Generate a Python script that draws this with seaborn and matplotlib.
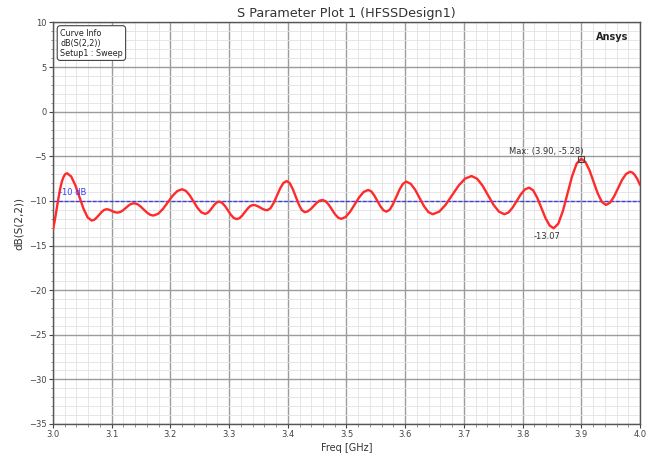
import matplotlib
matplotlib.use("Agg")
import matplotlib.pyplot as plt
from matplotlib.ticker import MultipleLocator
import seaborn as sns
import pandas as pd
import numpy as np

# ---- data ----
freq_ghz = [
    3.000, 3.003, 3.006, 3.009, 3.012, 3.015, 3.018, 3.021, 3.024,
    3.031, 3.038, 3.045, 3.052, 3.059, 3.066,
    3.0702, 3.0743, 3.0785, 3.0827, 3.0868, 3.091,
    3.0942, 3.0973, 3.1005, 3.1037, 3.1068, 3.110,
    3.1147, 3.1193, 3.124, 3.1287, 3.1333, 3.138,
    3.1435, 3.149, 3.1545, 3.160, 3.1655, 3.171,
    3.1792, 3.1873, 3.1955, 3.2037, 3.2118, 3.220,
    3.2265, 3.233, 3.2395, 3.246, 3.2525, 3.259,
    3.263, 3.267, 3.271, 3.275, 3.279, 3.283,
    3.288, 3.293, 3.298, 3.303, 3.308, 3.313,
    3.3177, 3.3223, 3.327, 3.3317, 3.3363, 3.341,
    3.345, 3.349, 3.353, 3.357, 3.361, 3.365,
    3.3705, 3.376, 3.3815, 3.387, 3.3925, 3.398,
    3.4032, 3.4083, 3.4135, 3.4187, 3.4238, 3.429,
    3.434, 3.439, 3.444, 3.449, 3.454, 3.459,
    3.4643, 3.4697, 3.475, 3.4803, 3.4857, 3.491,
    3.4987, 3.5063, 3.514, 3.5217, 3.5293, 3.537,
    3.5422, 3.5473, 3.5525, 3.5577, 3.5628, 3.568,
    3.5737, 3.5793, 3.585, 3.5907, 3.5963, 3.602,
    3.6095, 3.617, 3.6245, 3.632, 3.6395, 3.647,
    3.658, 3.669, 3.680, 3.691, 3.702, 3.713,
    3.7223, 3.7317, 3.741, 3.7503, 3.7597, 3.769,
    3.776, 3.783, 3.790, 3.797, 3.804, 3.811,
    3.818, 3.825, 3.832, 3.839, 3.846, 3.853,
    3.8608, 3.8687, 3.8765, 3.8843, 3.8922, 3.900,
    3.907, 3.914, 3.921, 3.928, 3.935, 3.942,
    3.9488, 3.9557, 3.9625, 3.9693, 3.9762, 3.983,
    3.987, 3.991, 3.9955, 4.000,
]
db_s22 = [
    -13.20, -12.20, -11.00, -9.80, -8.70, -7.85, -7.30, -6.98, -6.90,
    -7.26, -8.23, -9.55, -10.88, -11.85, -12.20,
    -12.11, -11.88, -11.57, -11.25, -11.02, -10.93,
    -10.96, -11.03, -11.12, -11.22, -11.28, -11.31,
    -11.24, -11.05, -10.79, -10.52, -10.33, -10.26,
    -10.35, -10.61, -10.95, -11.30, -11.55, -11.64,
    -11.44, -10.90, -10.17, -9.43, -8.89, -8.69,
    -8.88, -9.38, -10.07, -10.76, -11.27, -11.45,
    -11.36, -11.11, -10.77, -10.42, -10.17, -10.08,
    -10.21, -10.57, -11.06, -11.55, -11.91, -12.04,
    -11.93, -11.64, -11.25, -10.85, -10.56, -10.45,
    -10.49, -10.60, -10.75, -10.89, -11.00, -11.04,
    -10.82, -10.22, -9.41, -8.59, -7.99, -7.77,
    -8.00, -8.64, -9.52, -10.39, -11.03, -11.26,
    -11.17, -10.92, -10.58, -10.23, -9.98, -9.89,
    -10.03, -10.42, -10.95, -11.48, -11.87, -12.01,
    -11.79, -11.20, -10.39, -9.58, -8.99, -8.77,
    -8.93, -9.38, -9.99, -10.59, -11.04, -11.20,
    -10.98, -10.36, -9.52, -8.68, -8.07, -7.84,
    -8.09, -8.75, -9.67, -10.58, -11.25, -11.49,
    -11.20, -10.42, -9.35, -8.28, -7.50, -7.21,
    -7.50, -8.28, -9.35, -10.42, -11.20, -11.49,
    -11.29, -10.75, -10.00, -9.26, -8.71, -8.51,
    -8.81, -9.65, -10.78, -11.92, -12.75, -13.07,
    -12.55, -11.12, -9.18, -7.23, -5.80, -5.28,
    -5.63, -6.57, -7.87, -9.16, -10.10, -10.45,
    -10.20, -9.52, -8.59, -7.66, -6.98, -6.73,
    -6.82, -7.08, -7.55, -8.20,
]
ref_level_db = -10.0
x_ticks = [3.0, 3.1, 3.2, 3.3, 3.4, 3.5, 3.6, 3.7, 3.8, 3.9, 4.0]
y_ticks = [-35, -30, -25, -20, -15, -10, -5, 0, 5, 10]
legend_lines = ["Curve Info", "dB(S(2,2))", "Setup1 : Sweep"]

df = pd.DataFrame({"Freq": freq_ghz, "dB": db_s22})

sns.set_theme(style="white")
plt.rcParams['font.family'] = ['DejaVu Sans']

fig = plt.figure(figsize=(6.56, 4.59), dpi=100)
ax = fig.add_axes([0.0808, 0.0763, 0.8948, 0.8747])
ax.set_facecolor("white")

# grid
ax.xaxis.set_major_locator(MultipleLocator(0.1))
ax.xaxis.set_minor_locator(MultipleLocator(0.02))
ax.yaxis.set_major_locator(MultipleLocator(5))
ax.yaxis.set_minor_locator(MultipleLocator(1))
ax.grid(which="major", color="#9c9c9c", linewidth=1.0, zorder=0)
ax.grid(which="minor", color="#e2e2e2", linewidth=0.6, zorder=0)
ax.set_axisbelow(True)

# reference line
ax.axhline(ref_level_db, color="#3a3aff", linewidth=0.9, linestyle=(0, (3, 1.5)), zorder=2)

# curve
sns.lineplot(data=df, x="Freq", y="dB", ax=ax, color="#ff2a2a", linewidth=1.7,
             zorder=3, sort=False)
for ln in ax.lines:
    ln.set_solid_joinstyle("round")

ax.set_xlim(3.0, 4.0)
ax.set_ylim(-35, 10)
ax.set_xticks(x_ticks)
ax.set_xticklabels([f"{t:.1f}" for t in x_ticks])
ax.set_yticks(y_ticks)
ax.tick_params(axis="both", which="major", labelsize=6, colors="#444444",
               length=3, width=0.8, direction="out", pad=1.5)
ax.tick_params(axis="both", which="minor", length=1.8, width=0.5, colors="#666666")
ax.tick_params(axis="both", which="both", left=True, bottom=True)

for side in ["left", "bottom", "right", "top"]:
    ax.spines[side].set_visible(True)
    ax.spines[side].set_color("#555555")
    ax.spines[side].set_linewidth(1.0)

ax.set_xlabel("Freq [GHz]", fontsize=7, color="#333333", labelpad=3)
ax.set_ylabel("dB(S(2,2))", fontsize=7.5, color="#333333", labelpad=4)
ax.set_title("S Parameter Plot 1 (HFSSDesign1)", fontsize=9.2, color="#333333", pad=4)

# legend-like info box
ax.text(0.012, 0.985, "\n".join(legend_lines), transform=ax.transAxes,
        fontsize=5.8, color="#222222", va="top", ha="left", linespacing=1.15,
        bbox=dict(boxstyle="round,pad=0.35,rounding_size=0.4", fc="white",
                  ec="#444444", lw=0.8), zorder=5)

ax.text(0.952, 0.965, "Ansys", transform=ax.transAxes, fontsize=7,
        fontweight="bold", color="#222222", ha="center", va="center", zorder=5)

# -10 dB label
ax.text(3.010, ref_level_db + 0.9, "-10 dB", fontsize=6, color="#3a3aff",
        ha="left", va="center", zorder=4)

# max marker
arr_f = np.array(freq_ghz)
arr_d = np.array(db_s22)
i_max = int(np.argmax(arr_d))
i_min = int(np.argmin(arr_d[arr_f > 3.8])) + int(np.sum(arr_f <= 3.8))
ax.plot(arr_f[i_max], arr_d[i_max], marker="s", markersize=4, mfc="none",
        mec="#444444", mew=0.8, zorder=6)
ax.text(arr_f[i_max] + 0.003, arr_d[i_max] + 0.3,
        f"Max: ({arr_f[i_max]:.2f}, {arr_d[i_max]:.2f})", fontsize=6,
        color="#333333", ha="right", va="bottom", zorder=6)
ax.text(arr_f[i_min] - 0.012, arr_d[i_min] - 0.45, f"{arr_d[i_min]:.2f}",
        fontsize=6, color="#333333", ha="center", va="top", zorder=6)

fig.savefig("out.png", dpi=100)
